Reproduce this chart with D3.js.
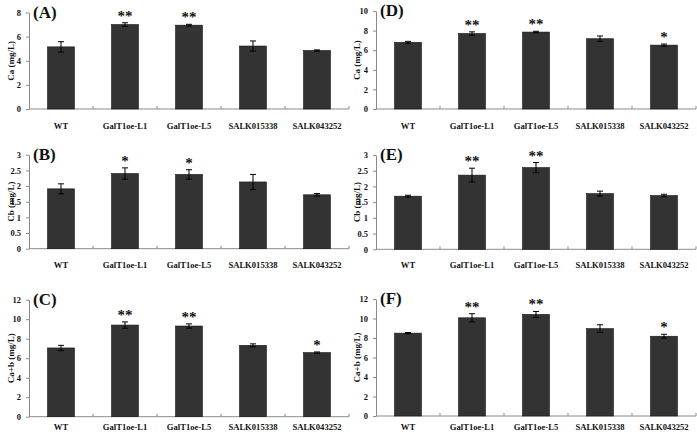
<!DOCTYPE html>
<html><head><meta charset="utf-8">
<script src="https://cdn.jsdelivr.net/npm/d3@7"></script>
<style>body{margin:0;background:#fff}svg{display:block}text{font-family:"Liberation Serif","Times New Roman",serif;font-weight:bold}</style>
</head><body><svg id="c" width="697" height="437"></svg>
<script>
const categories = ["WT","GalT1oe-L1","GalT1oe-L5","SALK015338","SALK043252"];
const valuesA = [5.15,7.0,6.95,5.22,4.85], errA = [0.43,0.15,0.07,0.42,0.05], starsA = ["","**","**","",""];
const valuesB = [1.91,2.4,2.37,2.13,1.72], errB = [0.16,0.18,0.15,0.24,0.04], starsB = ["","*","*","",""];
const valuesC = [7.05,9.4,9.3,7.32,6.57], errC = [0.27,0.32,0.22,0.15,0.07], starsC = ["","**","**","","*"];
const valuesD = [6.8,7.7,7.85,7.17,6.52], errD = [0.1,0.17,0.08,0.28,0.11], starsD = ["","**","**","","*"];
const valuesE = [1.69,2.36,2.6,1.77,1.71], errE = [0.03,0.22,0.16,0.08,0.04], starsE = ["","**","**","",""];
const valuesF = [8.5,10.07,10.42,8.96,8.18], errF = [0.06,0.42,0.3,0.4,0.2], starsF = ["","**","**","","*"];
const ticksA = [0,2,4,6,8], ticksB = [0,0.5,1,1.5,2,2.5,3], ticksC = [0,2,4,6,8,10,12];
const ticksD = [0,2,4,6,8,10], ticksE = [0,0.5,1,1.5,2,2.5,3], ticksF = [0,2,4,6,8,10,12];
const panels = [
  {tag:"(A)", ylab:"Ca (mg/L)", v:valuesA, e:errA, s:starsA, t:ticksA, max:8, x0:29, y0:12.5, y1:109, lx:14, lo:20},
  {tag:"(B)", ylab:"Cb (mg/L)", v:valuesB, e:errB, s:starsB, t:ticksB, max:3, x0:29, y0:154.7, y1:248.7, lx:14, lo:19},
  {tag:"(C)", ylab:"Ca+b (mg/L)", v:valuesC, e:errC, s:starsC, t:ticksC, max:12, x0:29, y0:299.7, y1:416.7, lx:14, lo:13.5},
  {tag:"(D)", ylab:"Ca (mg/L)", v:valuesD, e:errD, s:starsD, t:ticksD, max:10, x0:376, y0:11, y1:109, lx:360, lo:20},
  {tag:"(E)", ylab:"Cb (mg/L)", v:valuesE, e:errE, s:starsE, t:ticksE, max:3, x0:376, y0:155, y1:249.3, lx:360, lo:19},
  {tag:"(F)", ylab:"Ca+b (mg/L)", v:valuesF, e:errF, s:starsF, t:ticksF, max:12, x0:376, y0:299, y1:416, lx:360, lo:13.5}
];
const svg = d3.select("#c");
panels.forEach(p => {
  const x = d3.scaleBand().domain(categories).range([p.x0, p.x0+320]).paddingInner(0.58).paddingOuter(0.29);
  const y = d3.scaleLinear().domain([0,p.max]).range([p.y1,p.y0]);
  const g = svg.append("g");
  const ya = g.append("g").attr("transform",`translate(${p.x0},0)`)
    .call(d3.axisLeft(y).tickValues(p.t).tickSize(3).tickSizeOuter(0).tickPadding(5).tickFormat(d3.format("")));
  ya.selectAll("path,line").attr("stroke","#8a8a8a");
  ya.selectAll("text").attr("font-size",8.5).attr("fill","#111").attr("font-family","Liberation Serif").attr("font-weight","bold");
  g.append("line").attr("x1",p.x0).attr("x2",p.x0+320).attr("y1",p.y1).attr("y2",p.y1).attr("stroke","#8a8a8a");
  const bounds = d3.range(1,6).map(i => p.x0 + i*x.step());
  g.selectAll(".bt").data(bounds).join("line").attr("x1",d=>d).attr("x2",d=>d)
    .attr("y1",p.y1).attr("y2",p.y1-3).attr("stroke","#8a8a8a");
  g.selectAll(".cl").data(categories).join("text")
    .attr("x",d=>x(d)+x.bandwidth()/2).attr("y",p.y1+p.lo).attr("text-anchor","middle")
    .attr("font-size",8.6).attr("fill","#111").text(d=>d);
  g.selectAll(".bar").data(p.v).join("rect")
    .attr("x",(d,i)=>x(categories[i])).attr("width",x.bandwidth())
    .attr("y",d=>y(d)).attr("height",d=>p.y1-y(d))
    .attr("fill","#333333").attr("stroke","#111").attr("stroke-width",0.6);
  p.v.forEach((d,i)=>{
    const cx = x(categories[i])+x.bandwidth()/2;
    const top = y(d+p.e[i]), bot = y(d-p.e[i]);
    g.append("line").attr("x1",cx).attr("x2",cx).attr("y1",top).attr("y2",bot).attr("stroke","#000").attr("stroke-width",1);
    [top,bot].forEach(yy=>g.append("line").attr("x1",cx-3).attr("x2",cx+3).attr("y1",yy).attr("y2",yy).attr("stroke","#000").attr("stroke-width",1));
    if(p.s[i]) g.append("text").attr("x",cx).attr("y",top-2).attr("text-anchor","middle")
      .attr("font-size",15).attr("font-family","DejaVu Sans").attr("fill","#111").text(p.s[i]);
  });
  g.append("text").attr("x",p.x0+4).attr("y",p.y0+5).attr("font-size",17).attr("fill","#111").text(p.tag);
  g.append("text").attr("transform",`translate(${p.lx},${(p.y0+p.y1)/2}) rotate(-90)`)
    .attr("text-anchor","middle").attr("font-size",9).attr("fill","#111").text(p.ylab);
});
</script></body></html>
